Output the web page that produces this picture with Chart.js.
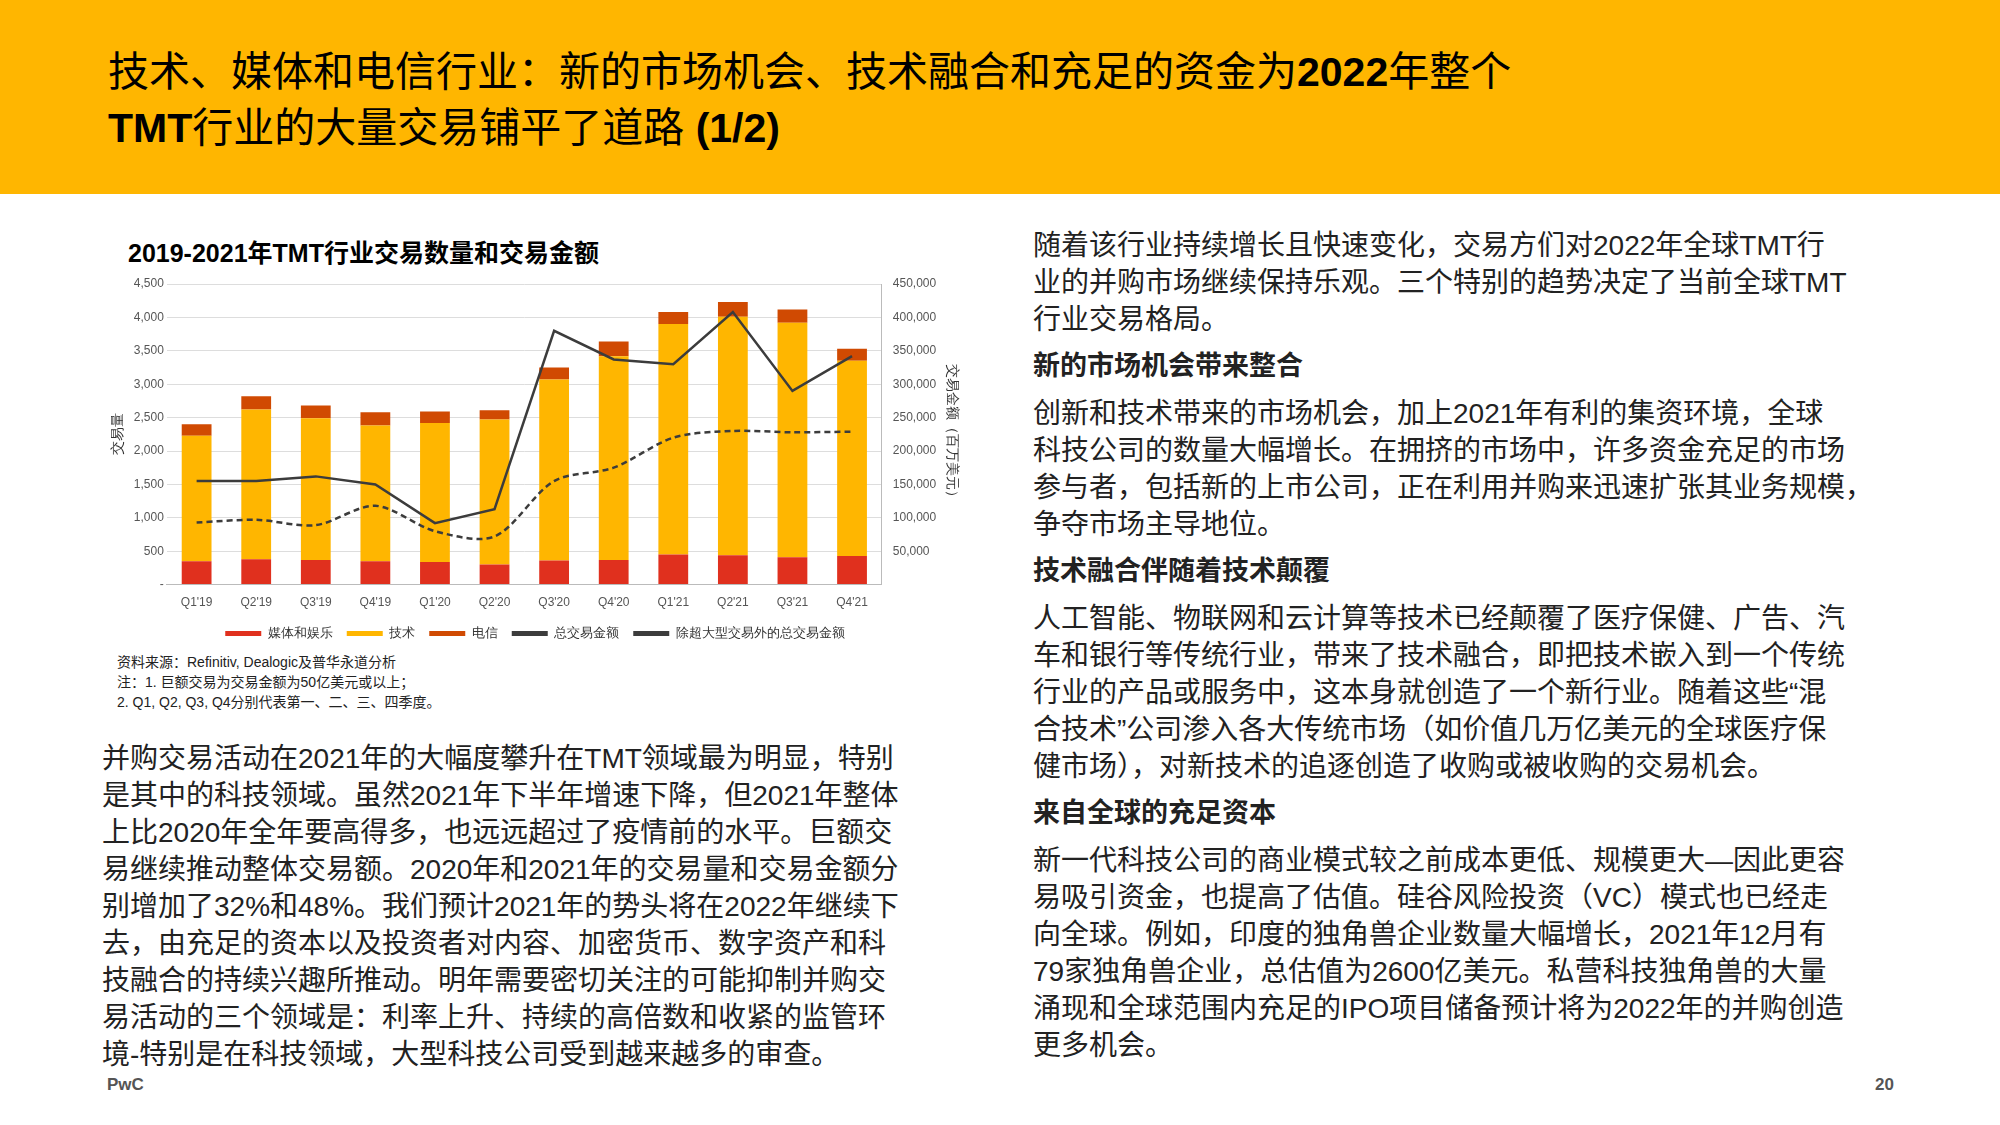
<!DOCTYPE html>
<html><head><meta charset="utf-8">
<script src="https://cdn.jsdelivr.net/npm/chart.js@4"></script>
<style>
body{margin:0;width:2000px;height:1125px;background:#fff;font-family:"Liberation Sans","Noto Sans CJK SC",Arial,sans-serif;position:relative;overflow:hidden;color:#222}
#hdr{position:absolute;left:0;top:0;width:2000px;height:194px;background:#FFB600}
#hdr div{position:absolute;left:108px;top:44px;font-size:41px;line-height:56px;color:#000;white-space:nowrap}
.abs{position:absolute;white-space:nowrap}
#ctitle{left:128px;top:233px;font-size:25px;font-weight:bold;color:#000}
#wrap{left:106px;top:270px;width:858px;height:380px}
#notes{left:117px;top:652px;font-size:14px;line-height:20px;color:#222}
#ltxt{left:102px;top:740px;font-size:28px;line-height:37px}
#rtxt{left:1033px;top:227px;font-size:28px;line-height:37px}
#rtxt h4{margin:10px 0 10px 0;font-size:27px;line-height:37px;font-weight:bold}
#rtxt p{margin:0}
.ft{font-size:17px;font-weight:bold;color:#555;top:1075px}
</style></head><body>
<div id="hdr"><div>技术、媒体和电信行业：新的市场机会、技术融合和充足的资金为<b>2022</b>年整个<br><b>TMT</b>行业的大量交易铺平了道路 <b>(1/2)</b></div></div>
<div id="ctitle" class="abs">2019-2021年TMT行业交易数量和交易金额</div>
<div id="wrap" class="abs"><canvas id="c"></canvas></div>
<div id="notes" class="abs">资料来源：Refinitiv, Dealogic及普华永道分析<br>注：1. 巨额交易为交易金额为50亿美元或以上；<br>2. Q1, Q2, Q3, Q4分别代表第一、二、三、四季度。</div>
<div id="ltxt" class="abs">并购交易活动在2021年的大幅度攀升在TMT领域最为明显，特别<br>是其中的科技领域。虽然2021年下半年增速下降，但2021年整体<br>上比2020年全年要高得多，也远远超过了疫情前的水平。巨额交<br>易继续推动整体交易额。2020年和2021年的交易量和交易金额分<br>别增加了32%和48%。我们预计2021年的势头将在2022年继续下<br>去，由充足的资本以及投资者对内容、加密货币、数字资产和科<br>技融合的持续兴趣所推动。明年需要密切关注的可能抑制并购交<br>易活动的三个领域是：利率上升、持续的高倍数和收紧的监管环<br>境-特别是在科技领域，大型科技公司受到越来越多的审查。</div>
<div id="rtxt" class="abs">
<p>随着该行业持续增长且快速变化，交易方们对2022年全球TMT行<br>业的并购市场继续保持乐观。三个特别的趋势决定了当前全球TMT<br>行业交易格局。</p>
<h4>新的市场机会带来整合</h4>
<p>创新和技术带来的市场机会，加上2021年有利的集资环境，全球<br>科技公司的数量大幅增长。在拥挤的市场中，许多资金充足的市场<br>参与者，包括新的上市公司，正在利用并购来迅速扩张其业务规模，<br>争夺市场主导地位。</p>
<h4>技术融合伴随着技术颠覆</h4>
<p>人工智能、物联网和云计算等技术已经颠覆了医疗保健、广告、汽<br>车和银行等传统行业，带来了技术融合，即把技术嵌入到一个传统<br>行业的产品或服务中，这本身就创造了一个新行业。随着这些“混<br>合技术”公司渗入各大传统市场（如价值几万亿美元的全球医疗保<br>健市场），对新技术的追逐创造了收购或被收购的交易机会。</p>
<h4>来自全球的充足资本</h4>
<p>新一代科技公司的商业模式较之前成本更低、规模更大—因此更容<br>易吸引资金，也提高了估值。硅谷风险投资（VC）模式也已经走<br>向全球。例如，印度的独角兽企业数量大幅增长，2021年12月有<br>79家独角兽企业，总估值为2600亿美元。私营科技独角兽的大量<br>涌现和全球范围内充足的IPO项目储备预计将为2022年的并购创造<br>更多机会。</p>
</div>
<div class="abs ft" style="left:107px">PwC</div>
<div class="abs ft" style="left:1875px">20</div>
<script>
const quarters = ["Q1'19","Q2'19","Q3'19","Q4'19","Q1'20","Q2'20","Q3'20","Q4'20","Q1'21","Q2'21","Q3'21","Q4'21"];
const media = [350,380,370,350,340,300,360,370,450,440,410,430];
const tech = [1880,2240,2120,2030,2080,2170,2710,3050,3450,3570,3510,2920];
const telecom = [170,200,190,200,170,140,180,220,180,220,200,180];
const totalValue = [155000,155000,162000,150000,92000,113000,380000,337000,330000,408000,290000,342000];
const exMegaValue = [93000,97000,89000,118000,80000,72000,155000,175000,220000,230000,228000,229000];

const fmt = v => v === 0 ? '-' : v.toLocaleString('en-US');
const legendOrder = [2,3,4,0,1];
new Chart(document.getElementById('c'), {
  data: {
    labels: quarters,
    datasets: [
      {type:'line', label:'总交易金额', data: totalValue, yAxisID:'y1', borderColor:'#3c3c3c', borderWidth:2.5, pointRadius:0, tension:0, order:0},
      {type:'line', label:'除超大型交易外的总交易金额', data: exMegaValue, yAxisID:'y1', borderColor:'#3c3c3c', borderWidth:2.5, borderDash:[6,4], pointRadius:0, tension:0.3, order:0},
      {type:'bar', label:'媒体和娱乐', data: media, backgroundColor:'#E0301E', stack:'s', order:1, barPercentage:0.5, categoryPercentage:1},
      {type:'bar', label:'技术', data: tech, backgroundColor:'#FFB600', stack:'s', order:1, barPercentage:0.5, categoryPercentage:1},
      {type:'bar', label:'电信', data: telecom, backgroundColor:'#D04A02', stack:'s', order:1, barPercentage:0.5, categoryPercentage:1}
    ]
  },
  options: {
    responsive:true, maintainAspectRatio:false, animation:false,
    layout:{padding:{top:14}},
    scales: {
      x: {stacked:true, grid:{display:false}, border:{color:'#bbb'}, ticks:{color:'#555', font:{size:12}}},
      y: {stacked:true, min:0, max:4500, ticks:{stepSize:500, color:'#555', font:{size:12}, callback: fmt},
          grid:{color:'#ddd', drawTicks:false}, border:{display:false},
          title:{display:true, text:'交易量', color:'#333', font:{size:14}}},
      y1: {position:'right', min:0, max:450000, ticks:{stepSize:50000, color:'#555', font:{size:12}, callback: v => v === 0 ? '' : fmt(v)},
          grid:{display:false}, border:{color:'#bbb'},
          title:{display:true, text:'交易金额（百万美元）', color:'#333', font:{size:14}}}
    },
    plugins: {
      legend:{position:'bottom', labels:{boxWidth:36, boxHeight:5, padding:14, color:'#333', font:{size:13},
        generateLabels: chart => legendOrder.map(i => {
          const ds = chart.data.datasets[i];
          const c = ds.type === 'line' ? ds.borderColor : ds.backgroundColor;
          return {text: ds.label, fillStyle: c, strokeStyle: c, lineWidth: 0, datasetIndex: i, fontColor:'#333'};
        })}},
      tooltip:{enabled:false}
    }
  }
});
</script>
</body></html>
